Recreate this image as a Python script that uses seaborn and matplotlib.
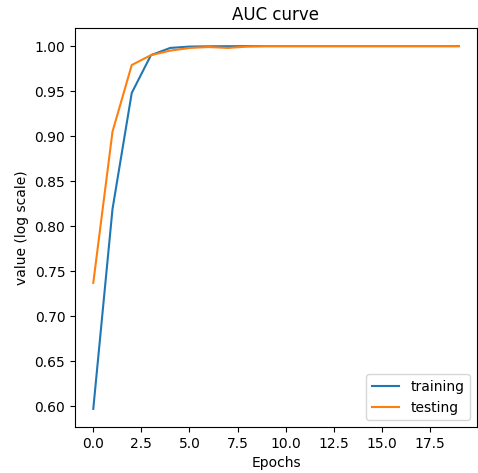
import matplotlib
matplotlib.use("Agg")
import matplotlib.pyplot as plt
import seaborn as sns
import pandas as pd

epochs = list(range(20))
training = [0.597, 0.819, 0.948, 0.990, 0.998, 0.9995, 0.9998, 0.9999, 1.0, 1.0,
            1.0, 1.0, 1.0, 1.0, 1.0, 1.0, 1.0, 1.0, 1.0, 1.0]
testing = [0.737, 0.905, 0.979, 0.990, 0.995, 0.998, 0.999, 0.998, 0.9995, 1.0,
           1.0, 1.0, 1.0, 1.0, 1.0, 1.0, 1.0, 1.0, 1.0, 1.0]

df = pd.DataFrame({"Epochs": epochs * 2,
                   "value": training + testing,
                   "series": ["training"] * 20 + ["testing"] * 20})

fig = plt.figure(figsize=(4.78, 4.73), dpi=100)
ax = fig.add_axes([75 / 478, 1 - 427 / 473, (477 - 75) / 478, (427 - 28) / 473])
sns.lineplot(data=df, x="Epochs", y="value", hue="series", ax=ax,
             palette=["#1f77b4", "#ff7f0e"], linewidth=1.5)
ax.set_title("AUC curve", fontsize=12)
ax.set_xlabel("Epochs", fontsize=10)
ax.set_ylabel("value (log scale)", fontsize=10)
ax.tick_params(labelsize=10)
ax.set_xticks([0, 2.5, 5, 7.5, 10, 12.5, 15, 17.5])
ax.legend(title=None, loc="lower right", fontsize=10)
fig.savefig("out.png", dpi=100)
